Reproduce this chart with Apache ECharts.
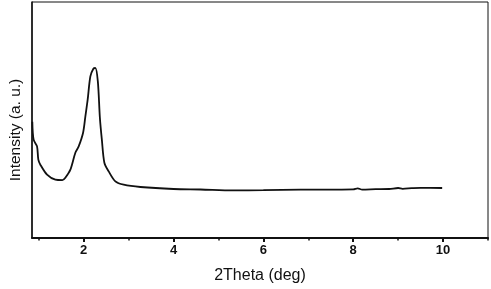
<!DOCTYPE html>
<html>
<head>
<meta charset="utf-8">
<title>XRD</title>
<script src="https://cdn.jsdelivr.net/npm/echarts@6/dist/echarts.min.js"></script>
<style>
  html, body { margin: 0; padding: 0; background: #fff; }
  #chart { width: 491px; height: 289px; }
</style>
</head>
<body>
<div id="chart"></div>
<script>
  // 2theta (deg) and intensity (a.u.)
  var twoTheta = [0.857, 0.886, 0.962, 0.991, 1.036, 1.185, 1.37, 1.526, 1.592, 1.704, 1.815, 1.889, 1.987,
    2.038, 2.089, 2.149, 2.216, 2.26, 2.316, 2.361, 2.405, 2.461, 2.557, 2.706, 2.891, 3.263, 4.0, 4.6,
    5.33, 6.0, 6.83, 7.5, 8.0, 8.1, 8.2, 8.5, 8.8, 9.0, 9.1, 9.3, 9.5, 9.98];
  var intensity = [116.3, 98.3, 91.6, 78.3, 73.3, 63.3, 58.3, 57.8, 60.3, 68.3, 85.3, 91.6, 105.3,
    121.6, 138.3, 161.6, 169.3, 170, 156.3, 120.3, 98.3, 75.3, 66.6, 56.6, 53.3, 51, 49, 48.5,
    47.6, 47.8, 48.3, 48.4, 48.6, 49.6, 48.4, 48.8, 49, 50, 49.2, 49.8, 50.2, 50];
  var majorTicks = [2, 4, 6, 8, 10];
  var minorTicks = [1, 3, 5, 7, 9, 11];

  var points = [];
  for (var i = 0; i < twoTheta.length; i++) {
    points.push([twoTheta[i], intensity[i]]);
  }

  var chart = echarts.init(document.getElementById('chart'));
  var option = {
    animation: false,
    grid: {
      left: 32, right: 3, top: 2, bottom: 51,
      show: true, borderColor: '#111', borderWidth: 1
    },
    xAxis: [{
      type: 'value',
      min: 0.85, max: 11,
      name: '2Theta (deg)',
      nameLocation: 'middle',
      nameGap: 30,
      nameTextStyle: { fontFamily: 'Liberation Sans', fontSize: 16, color: '#111' },
      axisLine: { lineStyle: { color: '#111', width: 2 } },
      axisTick: { show: true, customValues: majorTicks, length: 4, lineStyle: { color: '#111', width: 2 } },
      axisLabel: { customValues: majorTicks, fontFamily: 'Liberation Sans', fontWeight: 'bold',
        fontSize: 13, color: '#111', margin: 6 },
      splitLine: { show: false }
    }, {
      type: 'value',
      position: 'bottom',
      min: 0.85, max: 11,
      axisLine: { show: false },
      axisTick: { show: true, customValues: minorTicks, length: 2.5, lineStyle: { color: '#111', width: 1.5 } },
      axisLabel: { show: false },
      splitLine: { show: false }
    }],
    yAxis: {
      type: 'value',
      min: 0, max: 236,
      name: 'Intensity (a. u.)',
      nameLocation: 'middle',
      nameGap: 8,
      nameRotate: 90,
      nameTextStyle: { fontFamily: 'Liberation Sans', fontSize: 15.5, color: '#111', padding: [0, 20, 0, 0] },
      axisLine: { show: true, lineStyle: { color: '#111', width: 1.5 } },
      axisTick: { show: false },
      axisLabel: { show: false },
      splitLine: { show: false }
    },
    series: [{
      type: 'line',
      data: points,
      showSymbol: false,
      smooth: 0.3,
      lineStyle: { color: '#111', width: 1.8 }
    }]
  };
  chart.setOption(option);
</script>
</body>
</html>
